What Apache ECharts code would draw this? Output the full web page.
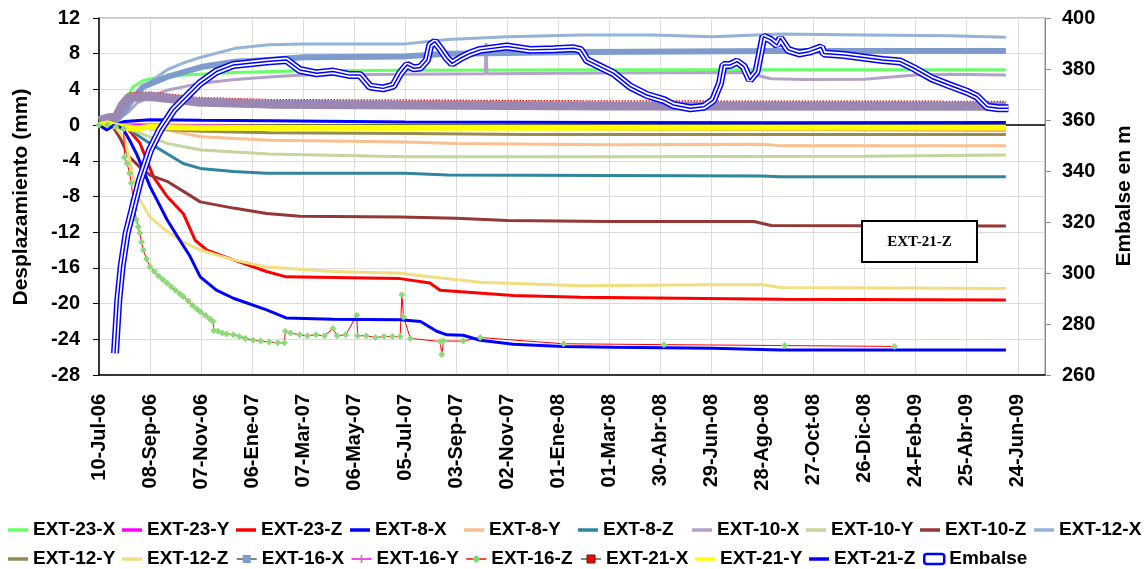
<!DOCTYPE html>
<html>
<head>
<meta charset="utf-8">
<script src="https://cdn.jsdelivr.net/npm/echarts@6/dist/echarts.min.js"></script>
<style>
html,body{margin:0;padding:0;background:#fff;}
#chart{width:1146px;height:569px;}
</style>
</head>
<body>
<div id="chart"></div>
<script>
// x values are days counted from 10-Jul-06
const xTickLabels = ['10-Jul-06','08-Sep-06','07-Nov-06','06-Ene-07','07-Mar-07','06-May-07','05-Jul-07','03-Sep-07','02-Nov-07','01-Ene-08','01-Mar-08','30-Abr-08','29-Jun-08','28-Ago-08','27-Oct-08','26-Dic-08','24-Feb-09','25-Abr-09','24-Jun-09'];
const legendRow1 = ['EXT-23-X','EXT-23-Y','EXT-23-Z','EXT-8-X','EXT-8-Y','EXT-8-Z','EXT-10-X','EXT-10-Y','EXT-10-Z','EXT-12-X'];
const legendRow2 = ['EXT-12-Y','EXT-12-Z','EXT-16-X','EXT-16-Y','EXT-16-Z','EXT-21-X','EXT-21-Y','EXT-21-Z','Embalse'];

const ext23X = [[0,0],[10,0.3],[17,0.8],[25,2.0],[32,2.8],[40,4.3],[52,5.0],[72,5.4],[100,5.6],[160,5.9],[240,6.1],[360,6.15],[600,6.2],[800,6.2],[1066,6.2]];
const ext23Y = [[0,0],[30,0.1],[120,0],[360,-0.3],[600,-0.5],[1066,-0.6]];
const ext23Z = [[0,0],[20,0.2],[32,-0.2],[48,-2],[56,-3.9],[64,-5.8],[80,-8],[99,-9.9],[113,-12.9],[127,-14],[158,-15.1],[197,-16.4],[220,-17],[354,-17.2],[389,-17.7],[401,-18.5],[487,-19.1],[566,-19.3],[801,-19.5],[1066,-19.6]];
const ext8X = [[0,0],[10,-0.1],[20,0.1],[30,0.4],[60,0.6],[120,0.55],[200,0.5],[360,0.35],[600,0.3],[800,0.25],[1066,0.3]];
const ext8Y = [[0,0],[30,0],[48,-0.2],[80,-0.55],[120,-1.3],[200,-1.7],[360,-1.9],[420,-2.05],[600,-2.2],[780,-2.15],[800,-2.3],[1066,-2.3]];
const ext8Z = [[0,0],[30,-0.1],[48,-1.3],[60,-2.05],[80,-3.2],[99,-4.3],[119,-4.85],[158,-5.2],[197,-5.4],[360,-5.4],[410,-5.6],[780,-5.7],[800,-5.8],[1066,-5.8]];
const ext10X = [[0,0],[20,0.5],[35,1.5],[45,2.5],[60,3.2],[80,3.9],[120,4.7],[160,5.1],[200,5.4],[240,5.6],[360,5.7],[454,5.75],[455,9.2],[456,5.75],[600,5.85],[760,5.9],[790,5.2],[830,5.1],[900,5.15],[960,5.6],[1000,5.7],[1066,5.6]];
const ext10Y = [[0,0],[30,-0.1],[48,-0.9],[80,-2.05],[120,-2.8],[200,-3.25],[360,-3.55],[600,-3.55],[900,-3.5],[1066,-3.35]];
const ext10Z = [[0,0],[17,-0.3],[25,-1.5],[35,-3.5],[48,-4.7],[60,-5.6],[80,-6.3],[103,-7.65],[119,-8.6],[158,-9.3],[197,-9.9],[236,-10.2],[354,-10.3],[420,-10.45],[480,-10.7],[600,-10.8],[770,-10.8],[790,-11.25],[1066,-11.3]];
const ext12X = [[0,0],[15,0.3],[25,0.8],[35,2.5],[48,4],[60,4.8],[80,6.2],[100,7.0],[120,7.6],[160,8.6],[200,9.0],[240,9.1],[300,9.1],[360,9.1],[410,9.6],[480,9.9],[566,10.1],[650,10.1],[722,9.9],[800,10.2],[900,10.1],[1000,10.0],[1066,9.85]];
const ext12Y = [[0,0],[30,-0.1],[60,-0.4],[120,-0.7],[200,-0.85],[360,-0.95],[500,-1.05],[1066,-1.05]];
const ext12Z = [[0,0],[20,-0.3],[30,-1.5],[36,-3.9],[40,-5.8],[48,-8.4],[60,-10.3],[80,-11.9],[99,-13.1],[119,-14],[158,-15.1],[197,-15.9],[275,-16.4],[354,-16.6],[389,-17],[448,-17.6],[566,-18.0],[722,-17.9],[780,-17.9],[801,-18.2],[1066,-18.3]];
const ext16X = [[0,0],[20,0.5],[30,1.5],[40,3],[52,4.3],[80,5.4],[120,6.5],[160,7.1],[200,7.3],[240,7.6],[360,7.7],[410,8.0],[570,8.2],[800,8.3],[1066,8.3]];
const ext16Y = [[0,0.5],[10,0.8],[20,0.9],[27,2.2],[35,3.1],[60,3.2],[90,2.9],[114,2.6],[200,2.35],[360,2.25],[600,2.15],[1066,2.1]];
const ext16Z = [[0,0],[10,0],[20,-0.2],[29,-0.4],[30,-3.6],[33,-4.3],[36,-5.4],[38,-6.5],[40,-8.4],[42,-9.5],[44,-10.6],[46,-11.4],[48,-12.1],[50,-13.1],[52,-14.0],[56,-15.0],[60,-15.9],[65,-16.4],[70,-16.9],[75,-17.3],[80,-17.7],[85,-18.1],[90,-18.5],[95,-18.9],[99,-19.2],[105,-19.7],[110,-20.2],[115,-20.6],[119,-20.9],[125,-21.3],[130,-21.7],[134,-22.0],[135,-23.0],[140,-23.1],[145,-23.3],[150,-23.4],[158,-23.5],[165,-23.7],[172,-23.9],[181,-24.1],[190,-24.2],[200,-24.3],[210,-24.4],[218,-24.4],[219,-23.1],[225,-23.3],[236,-23.5],[245,-23.6],[255,-23.5],[265,-23.6],[275,-22.8],[280,-23.6],[290,-23.5],[303,-21.3],[304,-23.6],[314,-23.6],[325,-23.8],[335,-23.7],[345,-23.7],[354,-23.7],[356,-19.0],[358,-21.5],[366,-23.9],[401,-24.25],[403,-25.7],[405,-24.2],[428,-24.2],[448,-23.8],[546,-24.5],[664,-24.6],[806,-24.7],[935,-24.8]];
const ext21X = [[0,0],[5,0.8],[15,1.1],[20,1.2],[27,2.8],[35,3.6],[60,3.7],[90,3.4],[114,3.1],[200,2.85],[360,2.8],[600,2.7],[1066,2.65]];
const ext21Y = [[0,0],[10,0.2],[20,-0.1],[40,-0.4],[60,-0.2],[120,-0.3],[1066,-0.3]];
const ext21Z = [[0,0],[5,-0.3],[9,-0.55],[17,-0.05],[24,-0.2],[29,-0.55],[36,-1.7],[44,-3.2],[52,-5],[60,-6.9],[72,-9.1],[80,-10.6],[95,-12.9],[107,-14.7],[119,-17],[138,-18.5],[158,-19.4],[197,-20.7],[220,-21.6],[275,-21.75],[354,-21.8],[378,-22],[397,-23.1],[409,-23.5],[428,-23.55],[448,-24.1],[487,-24.55],[546,-24.8],[605,-24.9],[722,-25],[801,-25.2],[1066,-25.2]];
const embalse = [[18.8,268.5],[22.7,289.4],[26.6,302.5],[32.5,315.6],[40.3,326],[48.2,336.5],[60,348.2],[71.7,356],[87.3,363.9],[103,369.2],[118.7,374.4],[138,379],[158,381.6],[197,382.9],[220.5,383.5],[228,381.6],[236,379.6],[256,378.3],[275,379],[295,377.6],[307,377.6],[318.5,373.1],[334,372.4],[346,373.5],[354,378.3],[362,381.6],[370,380.3],[377.6,380.6],[385.5,383.5],[389.4,389.4],[395,390.7],[401,388.1],[409,384.2],[415,382.2],[424.6,384.2],[436,386.1],[448,387.5],[479.5,388.8],[507,387.5],[534,387.7],[558,388.1],[566,387.5],[573.5,383.5],[585,381.6],[605,378.3],[624.4,373.1],[644,369.8],[664,367.8],[675,365.9],[695,364.6],[711,365.2],[722,367.8],[730,374.4],[734,381.6],[742,381.6],[750,382.9],[758,380.9],[765,375.7],[773,379],[781,392.7],[789,391.5],[797,389.4],[801,392],[810,387.5],[823,386.1],[835,386.8],[849,388.5],[852,386.1],[876,385.5],[921,383.5],[942,382.9],[958,380.3],[979,376.3],[999,373.7],[1020,371.1],[1032,369.2],[1044,365.2],[1057,364.6],[1069,364.6]];
const xMin = 0, xMax = 1112;
const zeroLine = [[xMin,0],[xMax,0]];

const FONT = '"Liberation Sans", Arial, sans-serif';
const barIcon = 'path://M0,0L20,0L20,3.5L0,3.5Z';
const plusSym = 'path://M4,0L6,0L6,4L10,4L10,6L6,6L6,10L4,10L4,6L0,6L0,4L4,4Z';

function ln(name, data, color, width, extra) {
  return Object.assign({
    name: name, type: 'line', data: data, symbol: 'none', showSymbol: false,
    lineStyle: {color: color, width: width}, itemStyle: {color: color},
    animation: false, silent: true, z: 3
  }, extra || {});
}

const series = [
  {name: '_zero', type: 'line', data: zeroLine, symbol: 'none', lineStyle: {color: '#000', width: 1.5}, itemStyle: {color: '#000'}, z: 1, silent: true, animation: false},
  ln('EXT-23-X', ext23X, '#66FF66', 3),
  ln('EXT-23-Y', ext23Y, '#FF00FF', 2),
  ln('EXT-23-Z', ext23Z, '#FF0000', 3),
  ln('EXT-8-X', ext8X, '#0000FF', 3),
  ln('EXT-8-Y', ext8Y, '#FAC090', 3),
  ln('EXT-8-Z', ext8Z, '#31859C', 3),
  ln('EXT-10-X', ext10X, '#B3A2C7', 3),
  ln('EXT-10-Y', ext10Y, '#C3D69B', 3),
  ln('EXT-10-Z', ext10Z, '#953735', 3),
  ln('EXT-12-X', ext12X, '#95B3D7', 3),
  ln('EXT-12-Y', ext12Y, '#948A54', 3),
  ln('EXT-12-Z', ext12Z, '#F2DD80', 3),
  ln('EXT-16-X', ext16X, '#7D9BCB', 6, {symbol: 'rect'}),
  ln('EXT-21-X', ext21X, '#FF0000', 1.5, {symbol: 'rect', lineStyle: {color: '#FF0000', width: 1.5, type: 'dotted'}}),
  ln('EXT-16-Y', ext16Y, '#9B88B2', 9, {symbol: plusSym}),
  ln('EXT-16-Z', ext16Z, '#FF0000', 1, {symbol: 'diamond', symbolSize: 7, showSymbol: true, showAllSymbol: true, itemStyle: {color: '#8FD97A'}}),
  ln('EXT-21-Y', ext21Y, '#FFFF00', 6),
  ln('EXT-21-Z', ext21Z, '#0000FF', 3),
  ln('Embalse', embalse, '#0000FF', 8, {yAxisIndex: 1, z: 4}),
  ln('_embW', embalse, '#FFFFFF', 5, {yAxisIndex: 1, z: 4}),
  ln('_embC', embalse, '#0000FF', 1.5, {yAxisIndex: 1, z: 4})
];

const specialLegend = {
  'EXT-16-X': {name: 'EXT-16-X', lineStyle: {color: '#5E5E3A', width: 1.5}, itemStyle: {color: '#7D9BCB'}},
  'EXT-16-Y': {name: 'EXT-16-Y', lineStyle: {color: '#FF00FF', width: 1.5}, itemStyle: {color: '#D070A8'}},
  'EXT-16-Z': {name: 'EXT-16-Z', lineStyle: {color: '#FF0000', width: 1.5}, itemStyle: {color: '#66DD66'}},
  'EXT-21-X': {name: 'EXT-21-X', lineStyle: {color: '#5E5E3A', width: 1.5, type: 'solid'}, itemStyle: {color: '#FF0000', borderColor: '#552222', borderWidth: 1}},
  'Embalse': {name: 'Embalse', icon: 'roundRect', itemStyle: {color: '#FFFFFF', borderColor: '#0000FF', borderWidth: 2.5}}
};
function legendItems(names) {
  return names.map(n => specialLegend[n] || {name: n, icon: barIcon});
}
function mkLegend(names, top) {
  return {
    data: legendItems(names), left: 8, top: top, width: 1140, orient: 'horizontal',
    itemWidth: 20, itemHeight: 10, itemGap: 0, padding: 0,
    selectedMode: false,
    textStyle: {fontFamily: FONT, fontWeight: 'bold', fontSize: 19, color: '#000', width: 89, lineHeight: 20, overflow: 'none'}
  };
}

const chart = echarts.init(document.getElementById('chart'), null, {renderer: 'canvas'});
chart.setOption({
  backgroundColor: '#fff',
  animation: false,
  grid: {left: 99, right: 101, top: 18, bottom: 194, show: true, borderColor: '#8C8C8C', borderWidth: 1, backgroundColor: 'transparent'},
  legend: [mkLegend(legendRow1, 520), mkLegend(legendRow2, 549)],
  xAxis: {
    type: 'value', min: xMin, max: xMax, interval: 60,
    axisLine: {show: true, onZero: false, lineStyle: {color: '#000', width: 1.5}},
    axisTick: {show: false},
    splitLine: {show: true, lineStyle: {color: '#DCDCDC', width: 1}},
    axisLabel: {
      rotate: 90, margin: 19, showMaxLabel: false,
      fontFamily: FONT, fontWeight: 'bold', fontSize: 20, color: '#000',
      formatter: v => (v % 60 === 0 && xTickLabels[v / 60] !== undefined) ? xTickLabels[v / 60] : ''
    }
  },
  yAxis: [
    {
      type: 'value', min: -28, max: 12, interval: 4, position: 'left',
      axisLine: {show: true, onZero: false, lineStyle: {color: '#000', width: 1.5}},
      axisTick: {show: true, length: 6, lineStyle: {color: '#000', width: 1}},
      splitLine: {show: true, lineStyle: {color: '#DCDCDC', width: 1}},
      axisLabel: {margin: 19, fontFamily: FONT, fontWeight: 'bold', fontSize: 20, color: '#000'}
    },
    {
      type: 'value', min: 260, max: 400, interval: 20, position: 'right',
      axisLine: {show: true, onZero: false, lineStyle: {color: '#8C8C8C', width: 1}},
      axisTick: {show: true, length: 6, lineStyle: {color: '#8C8C8C', width: 1}},
      splitLine: {show: false},
      axisLabel: {margin: 17, fontFamily: FONT, fontWeight: 'bold', fontSize: 20, color: '#000'}
    }
  ],
  graphic: [
    {type: 'text', x: 21, y: 197, rotation: Math.PI / 2, silent: true,
     style: {text: 'Desplazamiento (mm)', fontFamily: FONT, fontWeight: 'bold', fontSize: 21, fill: '#000', textAlign: 'center', textVerticalAlign: 'middle'}},
    {type: 'text', x: 1124, y: 196, rotation: Math.PI / 2, silent: true,
     style: {text: 'Embalse en m', fontFamily: FONT, fontWeight: 'bold', fontSize: 21, fill: '#000', textAlign: 'center', textVerticalAlign: 'middle'}},
    {type: 'rect', shape: {x: 862, y: 221, width: 115, height: 41}, silent: true, z: 100,
     style: {fill: '#fff', stroke: '#000', lineWidth: 2}},
    {type: 'text', x: 919.5, y: 242, silent: true, z: 101,
     style: {text: 'EXT-21-Z', fontFamily: '"Liberation Serif", "Times New Roman", serif', fontWeight: 'bold', fontSize: 15, fill: '#000', textAlign: 'center', textVerticalAlign: 'middle'}}
  ],
  series: series
});
</script>
</body>
</html>
